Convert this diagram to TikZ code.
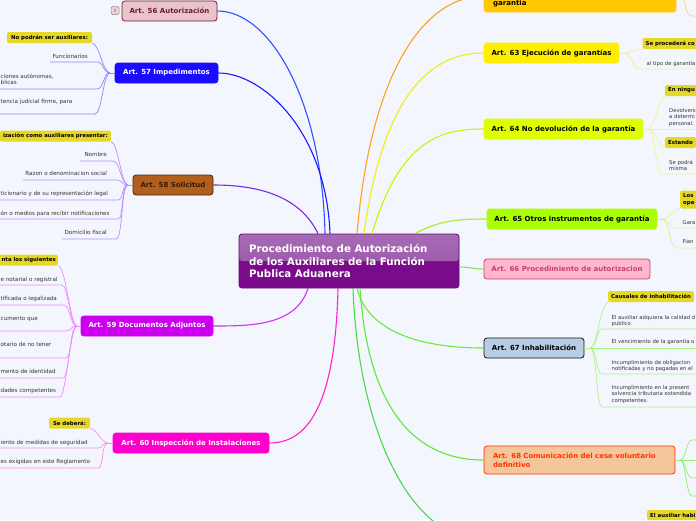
\documentclass[tikz,border=0pt]{standalone}
\usepackage{fontspec}
\setmainfont{DejaVu Sans}
\definecolor{bgc}{HTML}{F4F6FE}
\definecolor{cenTop}{HTML}{A86AB6}
\definecolor{cenMid}{HTML}{9450A2}
\definecolor{cenBot}{HTML}{7A0C8C}
\definecolor{cenBd}{HTML}{5A1070}
\definecolor{lblY}{HTML}{E6D824}
\definecolor{txtG}{HTML}{333333}
% boxes
\definecolor{f56}{HTML}{E9C4CA}\definecolor{d56}{HTML}{6E1E2E}
\definecolor{f57}{HTML}{1A0DFF}
\definecolor{f58}{HTML}{B0601C}\definecolor{d58}{HTML}{4A2408}\definecolor{t58}{HTML}{3A1A05}
\definecolor{f59}{HTML}{CC00EE}
\definecolor{f60}{HTML}{FF00CC}
\definecolor{f62}{HTML}{FFC800}
\definecolor{f63}{HTML}{FFEE00}
\definecolor{f64}{HTML}{DDFF00}
\definecolor{f65}{HTML}{AAFF00}
\definecolor{f66}{HTML}{FFB6CF}\definecolor{d66}{HTML}{C8406E}
\definecolor{f67}{HTML}{B8CCE4}\definecolor{d67}{HTML}{151515}
\definecolor{f68}{HTML}{F5C59C}\definecolor{d68}{HTML}{FF3300}
\definecolor{badgeF}{HTML}{F0D4D8}\definecolor{badgeD}{HTML}{9A8088}
% main connectors
\definecolor{c56}{HTML}{3050FF}\definecolor{c57}{HTML}{1A1AFF}
\definecolor{c58}{HTML}{7B2BE0}\definecolor{c59}{HTML}{CC33EE}
\definecolor{c60}{HTML}{FF22CC}\definecolor{c62}{HTML}{FFA020}
\definecolor{c63}{HTML}{F0EE10}\definecolor{c64}{HTML}{D4F000}
\definecolor{c65}{HTML}{A8EE20}\definecolor{c66}{HTML}{88E040}
\definecolor{c67}{HTML}{66EE30}\definecolor{c68}{HTML}{5EE83A}
\definecolor{cBot}{HTML}{44DD44}
% sub connectors
\definecolor{s57}{HTML}{8A8AFF}\definecolor{s58}{HTML}{BB8CFF}
\definecolor{s59}{HTML}{EE8CFF}\definecolor{s60}{HTML}{FF8CE0}
\definecolor{s62}{HTML}{FFD070}\definecolor{s63}{HTML}{F2EE90}
\definecolor{s64}{HTML}{E8F890}\definecolor{s65}{HTML}{D0F890}
\definecolor{s67}{HTML}{A8F880}\definecolor{s68}{HTML}{90EE70}
\tikzset{
  artbox/.style={draw, rounded corners=3pt, line width=0.8pt, inner sep=0pt, minimum height=20pt, font=\fontsize{7}{8.6}\selectfont\bfseries},
  lbl/.style={fill=lblY, rounded corners=1.5pt, inner xsep=3pt, inner ysep=0pt, minimum height=11pt, font=\fontsize{5.4}{6.5}\selectfont\bfseries, text=black, align=left},
  ctext/.style={inner sep=0pt, font=\fontsize{5.6}{6.7}\selectfont, text=txtG, align=left},
  rtext/.style={inner sep=0pt, font=\fontsize{5.3}{6.6}\selectfont, text=txtG, align=left},
  conn/.style={line width=1.1pt},
  subl/.style={line width=0.7pt},
}
\begin{document}
\begin{tikzpicture}[x=1pt,y=-1pt]
\useasboundingbox (0,0) rectangle (696,520);
\fill[bgc] (0,0) rectangle (696,520);

% ---------- central node ----------
\node[draw=cenBd, line width=0.8pt, rounded corners=3pt, minimum width=220pt, minimum height=54pt,
      text width=200pt, align=left, inner sep=0pt, fill=cenBot,
      path picture={\shade[top color=cenTop, bottom color=cenMid] (path picture bounding box.north west) rectangle (path picture bounding box.east);},
      font=\fontsize{10.3}{12.6}\selectfont\bfseries, text=white] (cen) at (349,261)
      {Procedimiento de Autorización\\de los Auxiliares de la Función\\Publica Aduanera};

% ---------- main branch boxes ----------
\node[artbox, fill=f56, draw=d56, text=d56, minimum width=95pt] (a56) at (169.5,11) {Art. 56 Autorización};
\node[draw=badgeD, fill=badgeF, rounded corners=1.5pt, minimum width=8pt, minimum height=8pt, inner sep=0pt,
      font=\fontsize{4.5}{5}\selectfont, text=gray, line width=0.5pt] (b56) at (115,10.5) {8};
\node[artbox, fill=f57, draw=f57, text=white, minimum width=103pt] (a57) at (166.5,73) {Art. 57 Impedimentos};
\node[artbox, fill=f58, draw=d58, text=t58, minimum width=80pt] (a58) at (173,185) {Art. 58 Solicitud};
\node[artbox, fill=f59, draw=f59, text=white, minimum width=132pt] (a59) at (147,326) {Art. 59 Documentos Adjuntos};
\node[artbox, fill=f60, draw=f60, text=white, minimum width=156pt] (a60) at (191,443) {Art. 60 Inspección de Instalaciones};

\node[artbox, fill=f62, draw=f62, minimum width=192pt, minimum height=32pt] (a62) at (580,-4) {};
\node[inner sep=0pt, anchor=base west, font=\fontsize{7}{8.6}\selectfont\bfseries] (t62) at (493,5.5) {garantia};
\node[artbox, fill=f63, draw=f63, minimum width=135pt] (a63) at (551.5,53) {Art. 63 Ejecución de garantías};
\node[artbox, fill=f64, draw=f64, minimum width=159pt] (a64) at (563.5,129) {Art. 64 No devolución de la garantía};
\node[artbox, fill=f65, draw=f65, minimum width=170pt] (a65) at (572,219) {Art. 65 Otros instrumentos de garantía};
\node[artbox, fill=f66, draw=d66, text=d66, minimum width=166pt] (a66) at (567,269) {Art. 66 Procedimiento de autorizacion};
\node[artbox, fill=f67, draw=d67, minimum width=100pt] (a67) at (534,348) {Art. 67 Inhabilitación};
\node[artbox, fill=f68, draw=d68, text=d68, minimum width=191pt, minimum height=28pt, text width=173pt, align=left] (a68) at (579.5,460)
      {Art. 68 Comunicación del cese voluntario\\definitivo};

% ---------- main connectors ----------
\draw[conn, c56] ([xshift=-24pt]cen.north) .. controls (322,100) and (270,11) .. (a56.east);
\draw[conn, c57] ([xshift=-19pt]cen.north) .. controls (326,130) and (262,73) .. (a57.east);
\draw[conn, c58] ([xshift=-31pt]cen.north) .. controls (298,192) and (250,185) .. (a58.east);
\draw[conn, c59] ([xshift=-41pt]cen.south) .. controls (296,326) and (250,326) .. (a59.east);
\draw[conn, c60] ([xshift=-11pt]cen.south) .. controls (335,420) and (300,443) .. (a60.east);
\draw[conn, c62] ([xshift=8pt]cen.north) .. controls (372,60) and (430,-4) .. (a62.west);
\draw[conn, c63] ([xshift=15pt]cen.north) .. controls (385,80) and (440,53) .. (a63.west);
\draw[conn, c64] ([xshift=23pt]cen.north) .. controls (400,140) and (440,129) .. (a64.west);
\draw[conn, c65] ([xshift=66pt]cen.north) .. controls (440,220) and (460,219) .. (a65.west);
\draw[conn, c66] ([yshift=-6pt]cen.east) .. controls (470,267) and (474,269) .. (a66.west);
\draw[conn, c67] ([xshift=8pt]cen.south) .. controls (370,340) and (440,348) .. (a67.west);
\draw[conn, c68] ([xshift=11pt]cen.south) .. controls (370,440) and (440,460) .. (a68.west);
\coordinate (botend) at (440,526);
\draw[conn, cBot] ([xshift=4pt]cen.south) .. controls (358,420) and (400,500) .. (botend);

% ---------- Art. 57 children ----------
\coordinate (j57) at (110,73);
\node[lbl, minimum width=85pt] (l57) at (49.5,37.5) {No podrán ser auxiliares:};
\node[ctext, anchor=base east] (t57a) at (88,58.8) {Funcionarios};
\node[ctext, anchor=north west] (t57b) at (0.5,73.4) {ciones autónomas,\\blicas};
\node[ctext, anchor=base west] (t57c) at (0.5,103.8) {tencia judicial firme, para};
\coordinate (u57a) at (97,62);
\coordinate (u57b) at (97,89);
\coordinate (u57c) at (95,114);
\draw[subl, s57] (a57.west) -- (j57);
\draw[subl, s57] (j57) .. controls (103,73) and (99,43) .. (l57.south east);
\draw[subl, s57] (j57) .. controls (103,73) and (104,62) .. (u57a) -- ++(-47,0);
\draw[subl, s57] (j57) .. controls (103,73) and (104,89) .. (u57b) -- ++(-97,0);
\draw[subl, s57] (j57) .. controls (103,73) and (102,114) .. (u57c) -- ++(-95,0);

% ---------- Art. 58 children ----------
\coordinate (j58) at (128,185);
\node[lbl, anchor=east] (l58) at (111,136) {ización como auxiliares presentar:};
\node[ctext, anchor=base east] (t58a) at (107,156.8) {Nombre};
\node[ctext, anchor=base east] (t58b) at (107,175.8) {Razon o denominacion social};
\node[ctext, anchor=base west] (t58c) at (0.5,195.8) {ticionario y de su representación legal};
\node[ctext, anchor=base west] (t58d) at (0.5,215.8) {ón o medios para recibir notificaciones};
\node[ctext, anchor=base east] (t58e) at (107,234.8) {Domicilio fiscal};
\coordinate (u58a) at (113,161);
\coordinate (u58b) at (116,180);
\coordinate (u58c) at (118,200);
\coordinate (u58d) at (118,219);
\coordinate (u58e) at (116,239);
\draw[subl, s58] (a58.west) -- (j58);
\draw[subl, s58] (j58) .. controls (121,185) and (118,141.5) .. (l58.south east);
\draw[subl, s58] (j58) .. controls (121,185) and (120,161) .. (u58a) -- ++(-33,0);
\draw[subl, s58] (j58) .. controls (121,185) and (123,180) .. (u58b) -- ++(-93,0);
\draw[subl, s58] (j58) .. controls (121,185) and (124,200) .. (u58c) -- ++(-118,0);
\draw[subl, s58] (j58) .. controls (121,185) and (124,219) .. (u58d) -- ++(-118,0);
\draw[subl, s58] (j58) .. controls (121,185) and (123,239) .. (u58e) -- ++(-54,0);

% ---------- Art. 59 children ----------
\coordinate (j59) at (77,326);
\node[lbl, anchor=east, inner xsep=2pt] (l59) at (58,260) {nta los siguientes};
\node[ctext, anchor=base west] (t59a) at (0.5,281.8) {e notarial o registral};
\node[ctext, anchor=base west] (t59b) at (0.5,300.8) {tificada o legalizada};
\node[ctext, anchor=base west] (t59c) at (0.5,320.8) {cumento que};
\node[ctext, anchor=base west] (t59d) at (0.5,346.8) {otario de no tener};
\node[ctext, anchor=base west] (t59e) at (0.5,373.8) {mento de identidad};
\node[ctext, anchor=base west] (t59f) at (0.5,392.8) {dades competentes};
\coordinate (u59a) at (62,285);
\coordinate (u59b) at (64,305);
\coordinate (u59c) at (66,331);
\coordinate (u59d) at (66,358);
\coordinate (u59e) at (63,378);
\coordinate (u59f) at (60,397);
\draw[subl, s59] (a59.west) -- (j59);
\draw[subl, s59] (j59) .. controls (70,326) and (66,265.5) .. (l59.south east);
\draw[subl, s59] (j59) .. controls (70,326) and (68,285) .. (u59a) -- ++(-62,0);
\draw[subl, s59] (j59) .. controls (70,326) and (70,305) .. (u59b) -- ++(-64,0);
\draw[subl, s59] (j59) .. controls (70,326) and (72,331) .. (u59c) -- ++(-66,0);
\draw[subl, s59] (j59) .. controls (70,326) and (72,358) .. (u59d) -- ++(-66,0);
\draw[subl, s59] (j59) .. controls (70,326) and (69,378) .. (u59e) -- ++(-63,0);
\draw[subl, s59] (j59) .. controls (70,326) and (66,397) .. (u59f) -- ++(-60,0);

% ---------- Art. 60 children ----------
\coordinate (j60) at (108,443);
\node[lbl, minimum width=41pt] (l60) at (69.5,423) {Se deberá:};
\node[ctext, anchor=base west] (t60a) at (0.5,444.8) {iento de medidas de seguridad};
\node[ctext, anchor=base west] (t60b) at (0.5,463.8) {es exigidas en este Reglamento};
\coordinate (u60a) at (98,448);
\coordinate (u60b) at (98,468);
\draw[subl, s60] (a60.west) -- (j60);
\draw[subl, s60] (j60) .. controls (101,443) and (97,428.5) .. (l60.south east);
\draw[subl, s60] (j60) .. controls (101,443) and (104,448) .. (u60a) -- ++(-98,0);
\draw[subl, s60] (j60) .. controls (101,443) and (104,468) .. (u60b) -- ++(-98,0);

% ---------- orange box children ----------
\coordinate (j62) at (681,-4);
\coordinate (u62) at (692,16);
\draw[subl, s62] (a62.east) -- (j62);
\draw[subl, s62] (j62) .. controls (686,-4) and (684,16) .. (u62) -- ++(4,0);

% ---------- Art. 63 children ----------
\coordinate (j63) at (624,53);
\node[lbl, anchor=west] (l63) at (642.5,43.5) {Se procederá co};
\node[rtext, anchor=base west] (t63) at (646.5,65.8) {al tipo de garantía};
\coordinate (u63) at (640,69);
\draw[subl, s63] (a63.east) -- (j63);
\draw[subl, s63] (j63) .. controls (631,53) and (636,49) .. (l63.south west);
\draw[subl, s63] (j63) .. controls (631,53) and (633,69) .. (u63) -- ++(56,0);

% ---------- Art. 64 children ----------
\coordinate (j64) at (648,129);
\node[lbl, anchor=west] (l64a) at (665,90.5) {En ningu};
\node[rtext, anchor=north west] (t64a) at (669,107.8) {Devolvers\\a determi\\personal.};
\node[lbl, anchor=west] (l64b) at (665,142.5) {Estando};
\node[rtext, anchor=north west] (t64b) at (669,159.8) {Se podrá\\misma};
\coordinate (u64a) at (696,129);
\coordinate (u64b) at (662,174);
\draw[subl, s64] (a64.east) -- (j64);
\draw[subl, s64] (j64) .. controls (655,129) and (659,96) .. (l64a.south west);
\draw[subl, s64] (j64) -- (u64a);
\draw[subl, s64] (j64) .. controls (655,129) and (659,148) .. (l64b.south west);
\draw[subl, s64] (j64) .. controls (655,129) and (656,174) .. (u64b) -- ++(34,0);

% ---------- Art. 65 children ----------
\coordinate (j65) at (662,219);
\node[lbl, anchor=west, minimum height=18pt] (l65) at (680,199.5) {Los\\ope};
\node[rtext, anchor=base west] (t65a) at (682.5,224.8) {Gara};
\node[rtext, anchor=base west] (t65b) at (682.5,243.8) {Fian};
\coordinate (u65a) at (675,228);
\coordinate (u65b) at (676,248);
\draw[subl, s65] (a65.east) -- (j65);
\draw[subl, s65] (j65) .. controls (669,219) and (673,208.5) .. (l65.south west);
\draw[subl, s65] (j65) .. controls (669,219) and (669,228) .. (u65a) -- ++(21,0);
\draw[subl, s65] (j65) .. controls (669,219) and (670,248) .. (u65b) -- ++(20,0);

% ---------- Art. 67 children ----------
\coordinate (j67) at (590,348);
\node[lbl, anchor=west] (l67) at (608,296.5) {Causales de inhabilitación};
\node[rtext, anchor=north west] (t67a) at (611.5,314.8) {El auxiliar adquiera la calidad d\\publico};
\node[rtext, anchor=base west] (t67b) at (611.5,343.8) {El vencimiento de la garantía o};
\node[rtext, anchor=north west] (t67c) at (611.5,359.8) {Incumplimiento de obligacion\\notificadas y no pagadas en el};
\node[rtext, anchor=north west] (t67d) at (611.5,384.8) {Incumplimiento en la present\\solvencia tributaria extendida\\competentes.};
\coordinate (u67a) at (602,329);
\coordinate (u67b) at (696,348);
\coordinate (u67c) at (602,374);
\coordinate (u67d) at (602,407);
\draw[subl, s67] (a67.east) -- (j67);
\draw[subl, s67] (j67) .. controls (597,348) and (601,302) .. (l67.south west);
\draw[subl, s67] (j67) .. controls (597,348) and (596,329) .. (u67a) -- ++(94,0);
\draw[subl, s67] (j67) -- (u67b);
\draw[subl, s67] (j67) .. controls (597,348) and (596,374) .. (u67c) -- ++(94,0);
\draw[subl, s67] (j67) .. controls (597,348) and (596,407) .. (u67d) -- ++(94,0);

% ---------- Art. 68 children ----------
\coordinate (j68) at (680,460);
\coordinate (u68a) at (692,440);
\coordinate (u68b) at (696,460);
\coordinate (u68c) at (692,478);
\coordinate (u68d) at (692,496);
\draw[subl, s68] (a68.east) -- (j68);
\draw[subl, s68] (j68) .. controls (686,460) and (686,440) .. (u68a) -- ++(4,0);
\draw[subl, s68] (j68) -- (u68b);
\draw[subl, s68] (j68) .. controls (686,460) and (686,478) .. (u68c) -- ++(4,0);
\draw[subl, s68] (j68) .. controls (686,460) and (686,496) .. (u68d) -- ++(4,0);
\node[lbl, anchor=west, minimum height=10pt] (l68) at (647,515) {El auxiliar habi};
\end{tikzpicture}
\end{document}
